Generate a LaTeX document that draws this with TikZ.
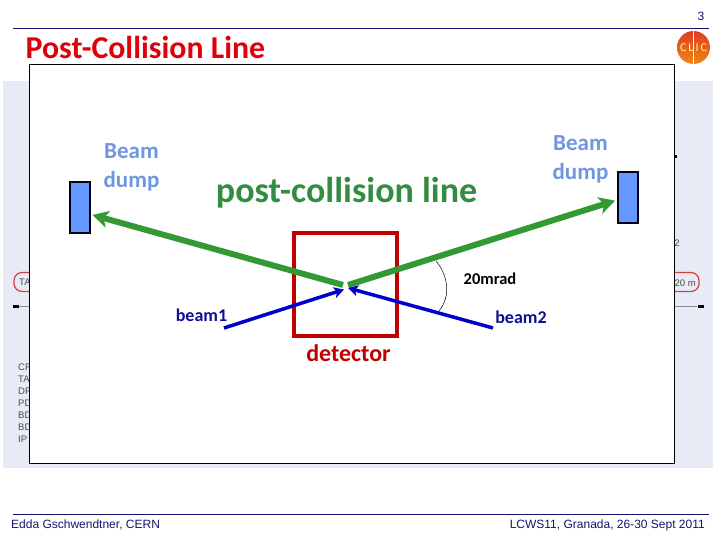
\documentclass[tikz,border=0pt]{standalone}
\usepackage{fontspec}
\setmainfont{Carlito}
\newfontfamily\footfont{Liberation Sans}
\usetikzlibrary{arrows.meta, positioning}
\definecolor{SlideNavy}{RGB}{20,20,110}
\definecolor{SlideRed}{RGB}{224,0,10}
\definecolor{SlidePanel}{RGB}{232,235,245}
\definecolor{DumpBlue}{RGB}{102,153,255}
\definecolor{DumpText}{RGB}{110,150,225}
\definecolor{BeamGreen}{RGB}{51,153,51}
\definecolor{LineGreen}{RGB}{50,140,65}
\definecolor{BeamBlue}{RGB}{0,0,204}
\definecolor{BeamText}{RGB}{15,15,150}
\definecolor{DetRed}{RGB}{192,0,0}
\definecolor{LogoTop}{RGB}{222,60,35}
\definecolor{LogoBottom}{RGB}{242,135,20}

\begin{document}
\begin{tikzpicture}[x=1pt, y=-1pt,
          dumpbox/.style={rectangle, draw=black!90!blue, fill=DumpBlue, line width=2pt,
                       minimum width=20pt, minimum height=51pt, inner sep=0pt},
          dumplabel/.style={align=center, font=\fontsize{23}{29}\selectfont\bfseries,
                       text=DumpText, inner sep=0pt},
          beamlabel/.style={font=\fontsize{18}{20}\selectfont\bfseries, text=BeamText, inner sep=0pt},
          greenarr/.style={-{Stealth[length=16pt, width=17pt, inset=4.5pt]}, draw=BeamGreen,
                       line width=6pt, shorten >=2pt},
          bluearr/.style={-{Stealth[length=10pt, width=11pt, inset=2.5pt]}, draw=BeamBlue, line width=3.5pt},
          backtext/.style={font=\footfont\fontsize{9.5}{10}\selectfont, text=black!70, inner sep=0pt},
          pill/.style={rectangle, rounded corners=8pt, draw=DetRed!75, line width=1.2pt,
                       minimum width=40pt, minimum height=19pt},
          foottext/.style={font=\footfont\fontsize{12}{14}\selectfont, text=SlideNavy, inner sep=0pt}
        ]
        \useasboundingbox (0,0) rectangle (720,540);

        % slide frame
        \coordinate (headL) at (13,28.5);
        \coordinate (headR) at (709,28.5);
        \coordinate (footL) at (13,514.5);
        \coordinate (footR) at (709,514.5);
        \draw[SlideNavy, line width=0.8pt] (headL) -- (headR);
        \draw[SlideNavy, line width=0.8pt] (footL) -- (footR);
        \node[foottext] (pagenum) at (701,16) {3};
        \node[foottext, anchor=west] (author) at (11,525) {Edda Gschwendtner, CERN};
        \node[foottext, anchor=east] (conf) at (705,525.5) {LCWS11, Granada, 26-30 Sept 2011};
        \node[anchor=west, inner sep=0pt, text=SlideRed, font=\fontsize{31.8}{34}\selectfont\bfseries]
              (title) at (25.5,47) {Post-Collision Line};

        % logo
        \node[circle, minimum size=33pt, inner sep=0pt, top color=LogoTop, bottom color=LogoBottom,
              text=yellow!45, font=\fontsize{12}{12}\selectfont] (logo) at (693.5,47.5) {C\,L\,I\,C};
        \draw[white!80!yellow, line width=0.7pt] (logo.north) -- (logo.south);

        % covered slide behind the box
        \fill[SlidePanel] (3,81) rectangle (713,468);
        \node[pill] (pillL) at (34,282) {};
        \node[pill] (pillR) at (679,282) {};
        \node[backtext, anchor=west] (pillLtext) at (19,282.5) {TA};
        \node[backtext, anchor=east] (pillRtext) at (696,283) {20 m};
        \node[fill=black, minimum width=6pt, minimum height=3pt, inner sep=0pt] (tickL) at (15.5,306) {};
        \node[fill=black, minimum width=6pt, minimum height=3pt, inner sep=0pt] (tickR) at (700.5,306) {};
        \draw[black!45, line width=0.4pt] (tickL) -- (tickR);
        \node[fill=black, minimum width=3pt, minimum height=3pt, inner sep=0pt] (tickT) at (675.5,157) {};
        \node[backtext] (bit) at (677,243) {2};
        \node[backtext, anchor=west] (listA) at (18,367) {CR};
        \node[backtext, anchor=west] (listB) at (18,379) {TA};
        \node[backtext, anchor=west] (listC) at (18,391) {DR};
        \node[backtext, anchor=west] (listD) at (18,403) {PD};
        \node[backtext, anchor=west] (listE) at (18,415) {BD};
        \node[backtext, anchor=west] (listF) at (18,427) {BD};
        \node[backtext, anchor=west] (listG) at (18,439) {IP};

        % white sheet
        \fill[white, draw=black, line width=1pt] (29.5,64.5) rectangle (674.5,463);

        % detector
        \node[rectangle, draw=DetRed, line width=4pt, minimum width=103pt, minimum height=103pt,
              inner sep=0pt] (det) at (345.5,284.5) {};
        \node[inner sep=0pt, text=DetRed, font=\fontsize{24}{26}\selectfont\bfseries]
              (detlabel) at (348.5,353) {detector};

        \node[dumpbox] (dumpL) at (79.5,207.5) {};
        \node[dumpbox] (dumpR) at (628,197.5) {};
        \node[dumplabel] (dumpLlabel) at (131.5,167.5) {Beam\\dump};
        \node[dumplabel] (dumpRlabel) at (580.5,159.5) {Beam\\dump};
        \node[inner sep=0pt, text=LineGreen, font=\fontsize{36}{38}\selectfont\bfseries]
              (postline) at (346.5,192.5) {post-collision line};

        \coordinate (greenL) at (343,285);
        \coordinate (greenR) at (348,285);
        \draw[greenarr] (greenL) -- (dumpL.-32);
        \draw[greenarr] (greenR) -- (dumpR.193);

        \coordinate (beamAstart) at (224,328);
        \coordinate (beamBstart) at (493,328);
        \coordinate (ipA) at (344,289.5);
        \coordinate (ipB) at (348,288);
        \draw[bluearr] (beamAstart) -- (ipA);
        \draw[bluearr] (beamBstart) -- (ipB);
        \node[beamlabel] (beamAlabel) at (201.5,315) {beam1};
        \node[beamlabel] (beamBlabel) at (521,317) {beam2};

        % angle between the lines
        \coordinate (arcT) at (436,261);
        \coordinate (arcB) at (439,311);
        \draw[black, line width=0.5pt] (arcT) .. controls (447,274) and (452,295) .. (arcB);
        \node[inner sep=0pt, text=black, font=\fontsize{16.5}{19}\selectfont\bfseries] (angle) at (490,279) {20mrad};
      \end{tikzpicture}
\end{document}
